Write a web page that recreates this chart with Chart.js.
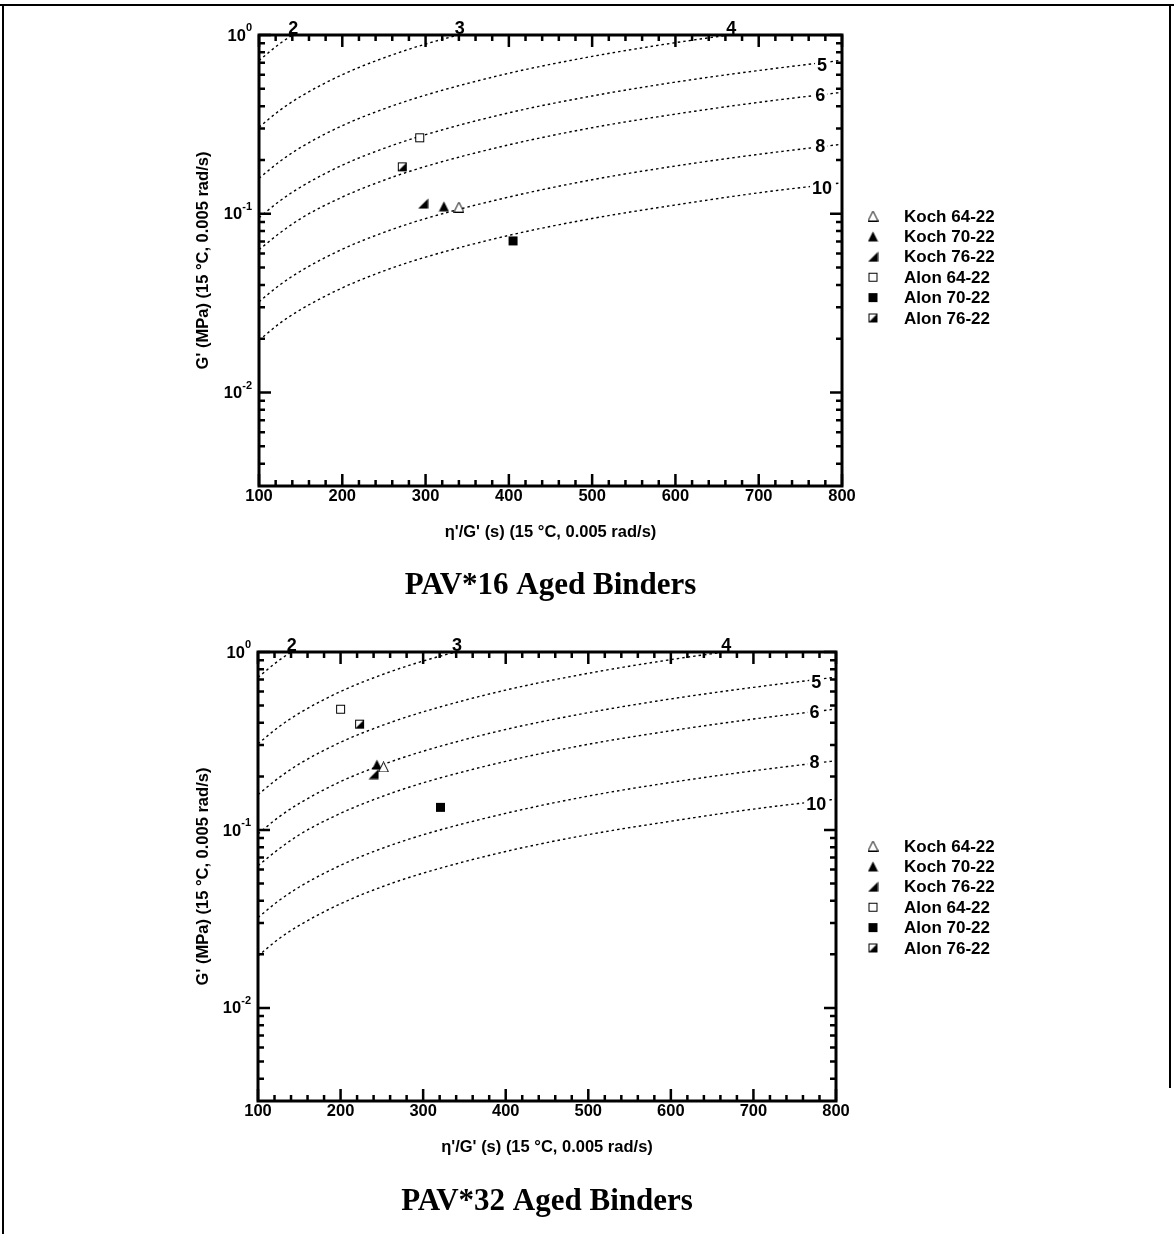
<!DOCTYPE html>
<html>
<head>
<meta charset="utf-8">
<title>PAV aged binders</title>
<script src="https://cdn.jsdelivr.net/npm/chart.js@4.4.1/dist/chart.umd.min.js"></script>
<style>
  html, body { margin: 0; padding: 0; background: #fff; }
  .page { position: relative; width: 1174px; height: 1234px; overflow: hidden; }
  .page canvas { position: absolute; left: 0; }
  #chart-pav16 { top: 0; }
  #chart-pav32 { top: 617px; }
  .rule { position: absolute; background: #000; }
  .rule-top { left: 0; top: 4px; width: 1174px; height: 2px; }
  .rule-left { left: 2px; top: 4px; width: 2px; height: 1230px; }
  .rule-right { left: 1169px; top: 4px; width: 2px; height: 1084px; }
</style>
</head>
<body>
<div class="page">
  <canvas id="chart-pav16" width="1174" height="617"></canvas>
  <canvas id="chart-pav32" width="1174" height="617"></canvas>
  <div class="rule rule-top"></div>
  <div class="rule rule-left"></div>
  <div class="rule rule-right"></div>
</div>
<script>
'use strict';

// dotted curves: G' at these eta'/G' values
const curveX = [100, 125, 150, 200, 250, 300, 400, 500, 600, 700, 800];
const curve2 = [0.72, 0.895, 1.069];
const curve3 = [0.305, 0.379, 0.453, 0.600, 0.745, 0.890, 1.18];
const curve4 = [0.158, 0.196, 0.235, 0.311, 0.386, 0.461, 0.611, 0.759, 0.906, 1.054];
const curve5 = [0.095, 0.118, 0.141, 0.187, 0.232, 0.277, 0.367, 0.456, 0.545, 0.633, 0.722];
const curve6 = [0.063, 0.078, 0.094, 0.124, 0.154, 0.184, 0.243, 0.303, 0.361, 0.420, 0.478];
const curve8 = [0.0322, 0.040, 0.0478, 0.0633, 0.0787, 0.094, 0.124, 0.155, 0.185, 0.215, 0.245];
const curve10 = [0.0196, 0.0244, 0.0291, 0.0385, 0.0479, 0.0572, 0.0757, 0.0941, 0.112, 0.131, 0.149];
const curveValues = [curve2, curve3, curve4, curve5, curve6, curve8, curve10];

// curve numbers
const topLabelNames = ['2', '3', '4'];
const topLabelX = [141, 341, 667];
const sideLabelNames = ['5', '6', '8', '10'];
const sideLabelX = [776, 774, 774, 776];
const sideLabelY = [0.68, 0.46, 0.24, 0.14];

// binders
const binderNames = ['Koch 64-22', 'Koch 70-22', 'Koch 76-22', 'Alon 64-22', 'Alon 70-22', 'Alon 76-22'];
const pav16X = [340, 322, 297, 293, 405, 272];
const pav16Y = [0.109, 0.110, 0.114, 0.266, 0.0705, 0.183];
const pav32X = [252, 244, 240, 200, 321, 223];
const pav32Y = [0.226, 0.233, 0.206, 0.477, 0.134, 0.393];

// axes
const xTickValues = [100, 200, 300, 400, 500, 600, 700, 800];
const yDecades = [1, 0.1, 0.01];
const yDecadeExponents = ['0', '-1', '-2'];

const SANS = '"Liberation Sans", Arial, sans-serif';
const SERIF = '"Liberation Serif", "Times New Roman", serif';
const X_TITLE = "\u03B7'/G' (s) (15 \u00B0C, 0.005 rad/s)";
const Y_TITLE = "G' (MPa) (15 \u00B0C, 0.005 rad/s)";
const markerKinds = ['triangle-open', 'triangle', 'triangle-half', 'square-open', 'square', 'square-half'];

function makeMarker(kind) {
  const c = document.createElement('canvas');
  c.width = 11;
  c.height = 11;
  const g = c.getContext('2d');
  g.fillStyle = '#000';
  g.strokeStyle = '#000';
  g.lineWidth = 1;
  if (kind.indexOf('triangle') === 0) {
    g.beginPath();
    if (kind === 'triangle-half') {
      g.moveTo(0.5, 10.5);
      g.lineTo(10.5, 0.5);
      g.lineTo(10.5, 10.5);
      g.closePath();
      g.fill();
      return c;
    }
    g.moveTo(5.5, 0.5);
    g.lineTo(10.5, 10.5);
    g.lineTo(0.5, 10.5);
    g.closePath();
    if (kind === 'triangle') {
      g.fill();
    } else {
      g.fillStyle = '#fff';
      g.fill();
      g.stroke();
    }
    return c;
  }
  if (kind === 'square') {
    g.fillRect(1, 1, 9, 9);
    return c;
  }
  g.fillStyle = '#fff';
  g.fillRect(1, 1, 9, 9);
  if (kind === 'square-half') {
    g.fillStyle = '#000';
    g.beginPath();
    g.moveTo(1.5, 9.5);
    g.lineTo(9.5, 1.5);
    g.lineTo(9.5, 9.5);
    g.closePath();
    g.fill();
  }
  g.strokeRect(1.5, 1.5, 8, 8);
  return c;
}

const markers = markerKinds.map(makeMarker);

// frame with inward ticks on all four sides
const frameTicksPlugin = {
  id: 'frameTicks',
  afterDraw(chart) {
    const ctx = chart.ctx;
    const a = chart.chartArea;
    const x = chart.scales.x;
    const y = chart.scales.y;
    ctx.save();
    ctx.strokeStyle = '#000';
    ctx.lineWidth = 2.5;
    ctx.beginPath();
    for (let v = x.min; v <= x.max; v += 20) {
      const px = x.getPixelForValue(v);
      const len = v % 100 === 0 ? 12 : 6;
      ctx.moveTo(px, a.bottom);
      ctx.lineTo(px, a.bottom - len);
      ctx.moveTo(px, a.top);
      ctx.lineTo(px, a.top + len);
    }
    [0.001, 0.01, 0.1, 1].forEach(function (d) {
      for (let k = 1; k <= 9; k++) {
        const py = y.getPixelForValue(d * k);
        if (py > a.bottom - 1 || py < a.top - 1) continue;
        const len = k === 1 ? 12 : 6;
        ctx.moveTo(a.left, py);
        ctx.lineTo(a.left + len, py);
        ctx.moveTo(a.right, py);
        ctx.lineTo(a.right - len, py);
      }
    });
    ctx.stroke();
    ctx.lineWidth = 3;
    ctx.strokeRect(a.left, a.top, a.right - a.left, a.bottom - a.top);

    // decade labels 10^n
    ctx.fillStyle = '#000';
    ctx.textBaseline = 'middle';
    yDecades.forEach(function (d, i) {
      const py = y.getPixelForValue(d);
      ctx.font = 'bold 11px ' + SANS;
      const ew = ctx.measureText(yDecadeExponents[i]).width;
      const ex = a.left - 7 - ew;
      ctx.textAlign = 'left';
      ctx.fillText(yDecadeExponents[i], ex, py - 7);
      ctx.font = 'bold 16.5px ' + SANS;
      ctx.textAlign = 'right';
      ctx.fillText('10', ex, py + 1);
    });
    ctx.restore();
  }
};

// numbers on the dotted curves
const curveLabelPlugin = {
  id: 'curveLabels',
  afterDatasetsDraw(chart) {
    const ctx = chart.ctx;
    const a = chart.chartArea;
    const x = chart.scales.x;
    const y = chart.scales.y;
    ctx.save();
    ctx.fillStyle = '#000';
    ctx.font = 'bold 18px ' + SANS;
    ctx.textAlign = 'center';
    ctx.textBaseline = 'alphabetic';
    topLabelNames.forEach(function (t, i) {
      ctx.fillText(t, x.getPixelForValue(topLabelX[i]), a.top - 1);
    });
    ctx.textBaseline = 'middle';
    sideLabelNames.forEach(function (t, i) {
      const px = x.getPixelForValue(sideLabelX[i]);
      const py = y.getPixelForValue(sideLabelY[i]);
      const w = ctx.measureText(t).width;
      ctx.fillStyle = '#fff';
      ctx.fillRect(px - w / 2 - 2, py - 8, w + 4, 16);
      ctx.fillStyle = '#000';
      ctx.fillText(t, px, py + 1);
    });
    ctx.restore();
  }
};

// legend to the right of the plot
const binderLegendPlugin = {
  id: 'binderLegend',
  afterDraw(chart, args, opts) {
    const ctx = chart.ctx;
    ctx.save();
    ctx.fillStyle = '#000';
    ctx.font = 'bold 17px ' + SANS;
    ctx.textAlign = 'left';
    ctx.textBaseline = 'middle';
    binderNames.forEach(function (name, i) {
      const rowY = opts.top + i * 20.4;
      ctx.drawImage(markers[i], opts.markerX - 5.5, rowY - 5.5);
      ctx.fillText(name, opts.textX, rowY + 1);
    });
    ctx.restore();
  }
};

function buildChart(canvasId, xs, ys, caption, box) {
  const canvas = document.getElementById(canvasId);
  const H = canvas.height;
  const W = canvas.width;
  const captionLine = 31 * 1.2;
  const titleTop = box.captionY - captionLine / 2;
  const axisFont = { family: SANS, size: 16.5, weight: 'bold' };

  const datasets = binderNames.map(function (name, i) {
    return {
      label: name,
      data: [{ x: xs[i], y: ys[i] }],
      pointStyle: markers[i],
      pointRadius: 5,
      showLine: false
    };
  });

  curveValues.forEach(function (vals) {
    datasets.push({
      label: 'curve',
      data: vals.map(function (v, j) { return { x: curveX[j], y: v }; }),
      showLine: true,
      borderColor: '#000',
      borderWidth: 1.4,
      borderDash: [2.5, 3],
      pointRadius: 0,
      cubicInterpolationMode: 'monotone',
      clip: 0
    });
  });

  return new Chart(canvas, {
    type: 'scatter',
    data: { datasets: datasets },
    options: {
      responsive: false,
      animation: false,
      devicePixelRatio: 1,
      events: [],
      layout: {
        padding: { left: 0, top: box.top, right: W - box.right, bottom: H - titleTop - captionLine }
      },
      plugins: {
        legend: { display: false },
        tooltip: { enabled: false },
        title: {
          display: true,
          position: 'bottom',
          fullSize: false,
          text: caption,
          color: '#000',
          font: { family: SERIF, size: 31, weight: 'bold' },
          padding: { top: 0, bottom: 0 }
        },
        binderLegend: { top: box.legendTop, markerX: 873, textX: 904 }
      },
      scales: {
        x: {
          type: 'linear',
          min: 100,
          max: 800,
          grid: { display: false, drawTicks: false },
          border: { display: false },
          afterBuildTicks: function (scale) {
            scale.ticks = xTickValues.map(function (v) { return { value: v }; });
          },
          ticks: { color: '#000', font: axisFont, padding: 1, maxRotation: 0, autoSkip: false },
          title: {
            display: true,
            text: X_TITLE,
            color: '#000',
            font: axisFont,
            padding: { top: 0, bottom: titleTop - box.xTitleY - 16.5 * 0.6 }
          },
          afterFit: function (scale) { scale.height = titleTop - box.bottom; }
        },
        y: {
          type: 'logarithmic',
          min: 0.003,
          max: 1,
          grid: { display: false, drawTicks: false },
          border: { display: false },
          ticks: { display: false },
          title: {
            display: true,
            text: Y_TITLE,
            color: '#000',
            font: axisFont,
            padding: { top: box.yTitleX - 16.5 * 0.6, bottom: 0 }
          },
          afterFit: function (scale) { scale.width = box.left; }
        }
      }
    },
    plugins: [curveLabelPlugin, frameTicksPlugin, binderLegendPlugin]
  });
}

function init() {
  buildChart('chart-pav16', pav16X, pav16Y, 'PAV*16 Aged Binders', {
    left: 259, right: 842, top: 35, bottom: 486,
    xTitleY: 532, captionY: 586, yTitleX: 203, legendTop: 216
  });
  buildChart('chart-pav32', pav32X, pav32Y, 'PAV*32 Aged Binders', {
    left: 258, right: 836, top: 35, bottom: 484,
    xTitleY: 530, captionY: 585, yTitleX: 203, legendTop: 229
  });
}

if (document.readyState === 'loading') {
  document.addEventListener('DOMContentLoaded', init);
} else {
  init();
}
</script>
</body>
</html>
